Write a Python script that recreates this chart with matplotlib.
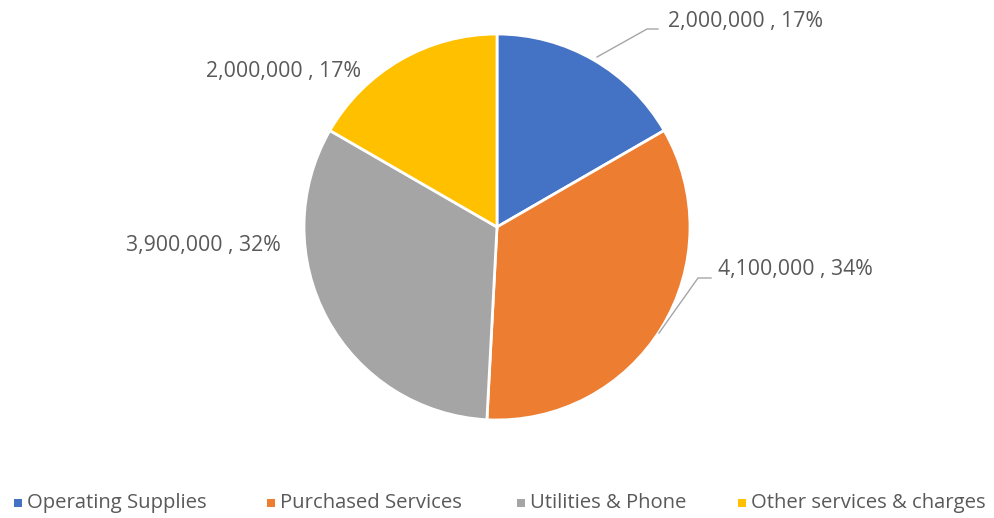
import matplotlib
matplotlib.use("Agg")
import matplotlib.pyplot as plt
import numpy as np

# Expense categories and amounts
categories = ["Operating Supplies", "Purchased Services", "Utilities & Phone", "Other services & charges"]
amounts = [2000000, 4100000, 3900000, 2000000]
colors = ["#4472C4", "#ED7D31", "#A5A5A5", "#FFC000"]

W, H = 994, 518
fig = plt.figure(figsize=(W / 100, H / 100), dpi=100)
ax = fig.add_axes([0, 0, 1, 1])
ax.set_xlim(0, W)
ax.set_ylim(0, H)
ax.set_aspect("equal")
ax.axis("off")

cx, cy, r = 497, H - 227, 193
wedges, _ = ax.pie(amounts, colors=colors, startangle=90, counterclock=False,
                   center=(cx, cy), radius=r,
                   wedgeprops=dict(edgecolor="white", linewidth=2))
ax.set_xlim(0, W)
ax.set_ylim(0, H)

total = sum(amounts)
text_color = "#595959"
font = dict(family="Open Sans", size=15.3, color=text_color)

# label anchors (pixel space, top-left origin) and alignment per slice
label_pos = [(668, 21, "left"), (718, 270, "left"), (281, 245, "right"), (361, 72, "right")]
# leader lines for labels that sit away from their slice
leaders = {0: [(597, 57), (647, 29), (658, 29)],
           1: [(659, 333), (698, 278), (711, 278)]}

for i, (val, (lx, ly, ha)) in enumerate(zip(amounts, label_pos)):
    pct = round(100 * val / total)
    ax.text(lx, H - ly, f"{val:,} , {pct}%", ha=ha, va="center", **font)
    if i in leaders:
        pts = np.array(leaders[i], dtype=float)
        ax.plot(pts[:, 0], H - pts[:, 1], color="#A6A6A6", lw=1)

# legend row
legend_font = dict(font, size=14.6)
legend_x = [14, 267, 517, 738]
for name, col, x in zip(categories, colors, legend_x):
    ax.add_patch(plt.Rectangle((x, H - 507), 8, 8, color=col, lw=0))
    ax.text(x + 13, H - 503, name, ha="left", va="center", **legend_font)

fig.savefig("out.png", dpi=100)
